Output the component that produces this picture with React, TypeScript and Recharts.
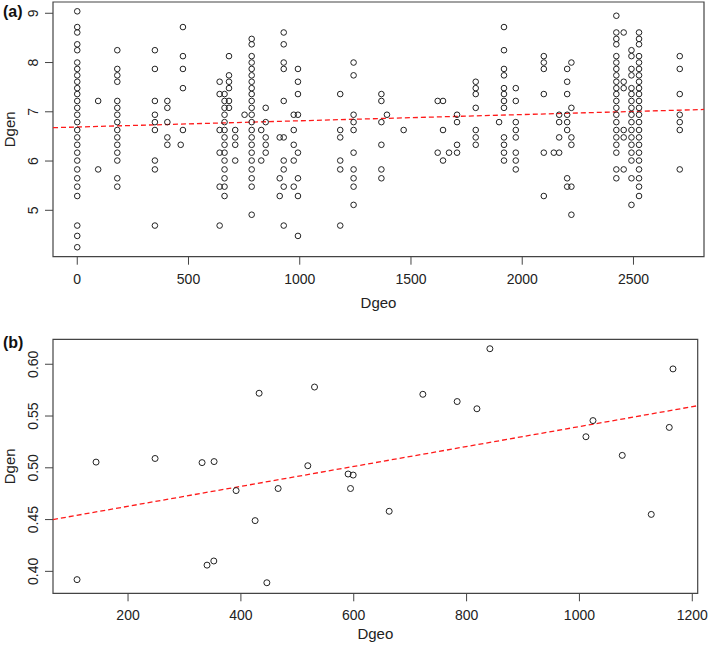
import { ScatterChart, Scatter, XAxis, YAxis, ReferenceLine, ReferenceArea } from 'recharts';

const FONT = '"Liberation Sans", Arial, Helvetica, sans-serif';

// panel (a): Dgeo columns and the Dgen values stacked in each
const aDgeo = [0, 94, 180, 349, 405, 465, 475, 640, 662, 682, 710, 752, 784, 827, 847, 910, 928, 973, 992, 1182, 1242, 1367, 1392, 1467, 1620, 1644, 1671, 1707, 1791, 1896, 1918, 1971, 2097, 2142, 2166, 2202, 2221, 2423, 2456, 2491, 2525, 2708];
const aDgen = [
  [9.04, 8.72, 8.61, 8.37, 8.25, 8.0, 7.87, 7.74, 7.61, 7.48, 7.36, 7.22, 7.08, 6.94, 6.79, 6.63, 6.48, 6.33, 6.17, 6.01, 5.83, 5.65, 5.48, 5.29, 4.69, 4.48, 4.25],
  [7.22, 5.83],
  [8.25, 7.87, 7.74, 7.61, 7.22, 7.08, 6.94, 6.79, 6.63, 6.48, 6.33, 6.17, 6.01, 5.65, 5.48],
  [8.25, 7.87, 7.22, 6.94, 6.79, 6.63, 6.01, 5.83, 4.69],
  [7.22, 7.08, 6.79, 6.48, 6.33],
  [6.33],
  [8.72, 8.13, 7.87, 7.48, 6.63],
  [7.61, 7.36, 6.63, 6.17, 5.48, 4.69],
  [7.36, 7.22, 7.08, 6.94, 6.79, 6.63, 6.48, 6.33, 6.17, 6.01, 5.83, 5.65, 5.48, 5.29],
  [8.13, 7.74, 7.61, 7.48, 7.22, 7.08],
  [6.63, 6.48, 6.33, 6.01],
  [6.94],
  [8.48, 8.37, 8.13, 8.0, 7.87, 7.74, 7.61, 7.48, 7.36, 7.22, 7.08, 6.94, 6.79, 6.63, 6.48, 6.33, 6.17, 6.01, 5.83, 5.65, 5.48, 4.91],
  [6.63, 6.01],
  [7.08, 6.79, 6.48, 6.33, 6.17],
  [6.48, 5.65, 5.29],
  [8.61, 8.37, 8.0, 7.87, 7.22, 6.48, 6.01, 5.83, 5.48, 4.69],
  [6.94, 6.63, 6.33, 6.01, 5.48],
  [7.87, 7.61, 7.36, 6.94, 6.17, 5.65, 5.29, 4.48],
  [7.36, 6.63, 6.48, 6.01, 5.83, 4.69],
  [8.0, 7.74, 6.94, 6.79, 6.63, 6.17, 5.83, 5.65, 5.48, 5.11],
  [7.36, 7.22, 6.79, 6.33, 5.83, 5.65],
  [6.94],
  [6.63],
  [7.22, 6.17],
  [7.22, 6.63, 6.01],
  [6.17],
  [6.94, 6.79, 6.33, 6.17],
  [7.61, 7.48, 7.36, 7.08, 6.63, 6.48, 6.33],
  [6.79],
  [8.72, 8.25, 7.87, 7.74, 7.48, 7.36, 7.22, 7.08, 6.48, 6.33, 6.17, 6.01],
  [7.48, 7.22, 6.79, 6.63, 6.48, 6.17, 6.01, 5.83],
  [8.13, 8.0, 7.87, 7.36, 6.17, 5.29],
  [6.17],
  [6.94, 6.79, 6.48, 6.17],
  [7.87, 7.61, 7.36, 6.94, 6.79, 6.63, 5.65, 5.48],
  [8.0, 7.08, 6.48, 6.33, 5.48, 4.91],
  [8.95, 8.61, 8.48, 8.37, 8.13, 8.0, 7.87, 7.74, 7.61, 7.48, 7.36, 7.22, 7.08, 6.94, 6.79, 6.63, 6.48, 6.33, 6.17, 5.83, 5.65],
  [8.61, 7.61, 7.48, 6.63, 6.48, 5.83],
  [8.25, 8.13, 7.87, 7.74, 7.48, 7.36, 7.22, 7.08, 6.94, 6.79, 6.63, 6.48, 6.33, 6.17, 6.01, 5.65, 5.11],
  [8.61, 8.48, 8.37, 8.13, 8.0, 7.87, 7.74, 7.61, 7.48, 7.36, 7.22, 7.08, 6.94, 6.79, 6.63, 6.48, 6.33, 6.17, 6.01, 5.83, 5.65, 5.48, 5.29],
  [8.13, 7.87, 7.36, 6.94, 6.79, 6.63, 5.83],
];
const aXTicks = [0, 500, 1000, 1500, 2000, 2500];
const aYTicks = [5, 6, 7, 8, 9];
const aXDomain = [-109, 2817];
const aYDomain = [4.058, 9.229];
const aFit = [6.691, 0.00012645]; // intercept, slope

// panel (b)
const bDgeo = [109.6, 143.3, 247.9, 331.2, 340, 352, 352.5, 391.5, 425.2, 432.3, 446, 466, 518.6, 530.5, 590, 594.3, 599, 662.8, 722.5, 783.3, 818.3, 841.3, 1011.5, 1024, 1075.9, 1127.3, 1159.2, 1165.8];
const bDgen = [0.392, 0.5055, 0.509, 0.505, 0.406, 0.41, 0.506, 0.478, 0.449, 0.572, 0.389, 0.48, 0.502, 0.578, 0.494, 0.48, 0.493, 0.458, 0.571, 0.564, 0.557, 0.615, 0.53, 0.5456, 0.512, 0.455, 0.539, 0.5955];
const bXTicks = [200, 400, 600, 800, 1000, 1200];
const bYTicks = [0.4, 0.45, 0.5, 0.55, 0.6];
const bXDomain = [67, 1209.6];
const bYDomain = [0.3788, 0.6241];
const bFit = [0.4436, 0.0000962];

const aData = aDgeo.flatMap((x, i) => aDgen[i].map((y) => ({ x, y })));
const bData = bDgeo.map((x, i) => ({ x, y: bDgen[i] }));

const fitSegment = (fit: number[], dom: number[]) => [
  { x: dom[0], y: fit[0] + fit[1] * dom[0] },
  { x: dom[1], y: fit[0] + fit[1] * dom[1] },
];

const openCircle = (r: number) => (props: any) => (
  <circle cx={props.cx} cy={props.cy} r={r} fill="none" stroke="#222" strokeWidth={1} />
);

function YTick(props: any) {
  const { x, y, payload, digits } = props;
  return (
    <text x={x} y={y} transform={`rotate(-90, ${x}, ${y})`} textAnchor="middle" fontSize={14} fontFamily={FONT} fill="#222">
      {Number(payload.value).toFixed(digits)}
    </text>
  );
}

const xTitle = (text: string, off: number) => (p: any) => {
  const vb = p.viewBox || {};
  return (
    <text x={vb.x + vb.width / 2} y={vb.y + vb.height - off} textAnchor="middle" fontSize={15} fontFamily={FONT} fill="#222">
      {text}
    </text>
  );
};

const yTitle = (text: string) => (p: any) => {
  const vb = p.viewBox || {};
  const cx = 15;
  const cy = vb.y + vb.height / 2;
  return (
    <text x={cx} y={cy} transform={`rotate(-90, ${cx}, ${cy})`} textAnchor="middle" fontSize={15} fontFamily={FONT} fill="#222">
      {text}
    </text>
  );
};

function Panel(props: any) {
  const { data, xTicks, yTicks, xDom, yDom, fit, width, height, margin, xAxisH, digits, r, titleOff } = props;
  return (
    <ScatterChart width={width} height={height} margin={margin}>
      <XAxis
        type="number"
        dataKey="x"
        domain={xDom}
        allowDataOverflow
        ticks={xTicks}
        interval={0}
        height={xAxisH}
        axisLine={false}
        tickSize={8}
        tickMargin={9}
        tickLine={{ stroke: '#444' }}
        tick={{ fontSize: 14, fill: '#222', fontFamily: FONT }}
        label={xTitle('Dgeo', titleOff)}
      />
      <YAxis
        type="number"
        dataKey="y"
        domain={yDom}
        allowDataOverflow
        ticks={yTicks}
        interval={0}
        width={53}
        axisLine={false}
        tickSize={8}
        tickMargin={7}
        tickLine={{ stroke: '#444' }}
        tick={(p: any) => <YTick {...p} digits={digits} />}
        label={yTitle('Dgen')}
      />
      <ReferenceArea x1={xDom[0]} x2={xDom[1]} y1={yDom[0]} y2={yDom[1]} fill="none" fillOpacity={0} stroke="#444" strokeWidth={1.2} ifOverflow="visible" />
      <Scatter data={data} shape={openCircle(r)} isAnimationActive={false} />
      <ReferenceLine segment={fitSegment(fit, xDom)} stroke="#ff1a1a" strokeWidth={1.3} strokeDasharray="5 3" ifOverflow="visible" />
    </ScatterChart>
  );
}

export default function App() {
  return (
    <div style={{ position: 'absolute', left: 0, top: 0, width: 709, height: 645, background: '#fff' }}>
      <Panel
        data={aData} xTicks={aXTicks} yTicks={aYTicks} xDom={aXDomain} yDom={aYDomain} fit={aFit}
        width={709} height={315} margin={{ top: 2, right: 5, bottom: 0, left: 0 }} xAxisH={58.3} digits={0} r={2.8} titleOff={7.3}
      />
      <Panel
        data={bData} xTicks={bXTicks} yTicks={bYTicks} xDom={bXDomain} yDom={bYDomain} fit={bFit}
        width={709} height={330} margin={{ top: 24.3, right: 11.3, bottom: 0, left: 0 }} xAxisH={51.7} digits={2} r={3} titleOff={6}
      />
      <svg width={709} height={645} style={{ position: 'absolute', left: 0, top: 0, pointerEvents: 'none' }}>
        <text x={3} y={17} fontSize={16} fontWeight="bold" fontFamily={FONT} fill="#111">(a)</text>
        <text x={3} y={348} fontSize={16} fontWeight="bold" fontFamily={FONT} fill="#111">(b)</text>
      </svg>
    </div>
  );
}
